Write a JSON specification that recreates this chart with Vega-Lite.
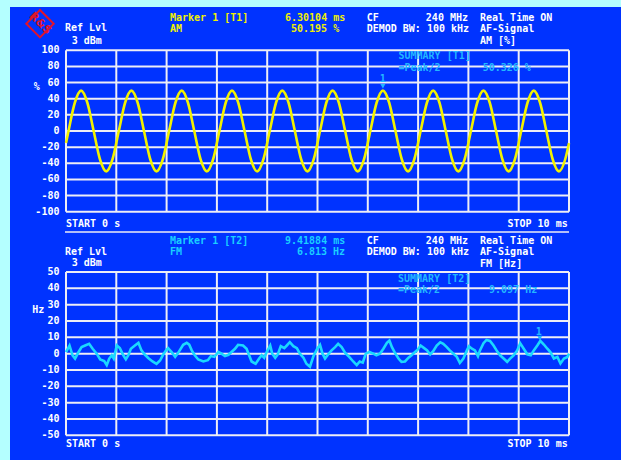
{
"$schema": "https://vega.github.io/schema/vega-lite/v6.json",
"background": "#b4ffff",
"padding": {"left": 10, "top": 5, "right": 0, "bottom": 0},
"config": {
  "view": {"fill": "#0033ff", "stroke": null},
  "text": {"font": "DejaVu Sans Mono", "fontSize": 10, "fontWeight": "bold", "color": "#ffffff", "align": "left", "baseline": "middle"}
},
"datasets": {
  "am": [
    {"t": 0, "v": -15}, {"t": 0.05, "v": 0}, {"t": 0.175, "v": 35}, {"t": 0.3, "v": 50}, {"t": 0.425, "v": 35}, {"t": 0.55, "v": 0}, {"t": 0.675, "v": -35}, {"t": 0.8, "v": -50}, {"t": 0.925, "v": -35},
    {"t": 1.05, "v": 0}, {"t": 1.175, "v": 35}, {"t": 1.3, "v": 50}, {"t": 1.425, "v": 35}, {"t": 1.55, "v": 0}, {"t": 1.675, "v": -35}, {"t": 1.8, "v": -50}, {"t": 1.925, "v": -35},
    {"t": 2.05, "v": 0}, {"t": 2.175, "v": 35}, {"t": 2.3, "v": 50}, {"t": 2.425, "v": 35}, {"t": 2.55, "v": 0}, {"t": 2.675, "v": -35}, {"t": 2.8, "v": -50}, {"t": 2.925, "v": -35},
    {"t": 3.05, "v": 0}, {"t": 3.175, "v": 35}, {"t": 3.3, "v": 50}, {"t": 3.425, "v": 35}, {"t": 3.55, "v": 0}, {"t": 3.675, "v": -35}, {"t": 3.8, "v": -50}, {"t": 3.925, "v": -35},
    {"t": 4.05, "v": 0}, {"t": 4.175, "v": 35}, {"t": 4.3, "v": 50}, {"t": 4.425, "v": 35}, {"t": 4.55, "v": 0}, {"t": 4.675, "v": -35}, {"t": 4.8, "v": -50}, {"t": 4.925, "v": -35},
    {"t": 5.05, "v": 0}, {"t": 5.175, "v": 35}, {"t": 5.3, "v": 50}, {"t": 5.425, "v": 35}, {"t": 5.55, "v": 0}, {"t": 5.675, "v": -35}, {"t": 5.8, "v": -50}, {"t": 5.925, "v": -35},
    {"t": 6.05, "v": 0}, {"t": 6.175, "v": 35}, {"t": 6.3, "v": 50}, {"t": 6.425, "v": 35}, {"t": 6.55, "v": 0}, {"t": 6.675, "v": -35}, {"t": 6.8, "v": -50}, {"t": 6.925, "v": -35},
    {"t": 7.05, "v": 0}, {"t": 7.175, "v": 35}, {"t": 7.3, "v": 50}, {"t": 7.425, "v": 35}, {"t": 7.55, "v": 0}, {"t": 7.675, "v": -35}, {"t": 7.8, "v": -50}, {"t": 7.925, "v": -35},
    {"t": 8.05, "v": 0}, {"t": 8.175, "v": 35}, {"t": 8.3, "v": 50}, {"t": 8.425, "v": 35}, {"t": 8.55, "v": 0}, {"t": 8.675, "v": -35}, {"t": 8.8, "v": -50}, {"t": 8.925, "v": -35},
    {"t": 9.05, "v": 0}, {"t": 9.175, "v": 35}, {"t": 9.3, "v": 50}, {"t": 9.425, "v": 35}, {"t": 9.55, "v": 0}, {"t": 9.675, "v": -35}, {"t": 9.8, "v": -50}, {"t": 9.925, "v": -35},
    {"t": 10, "v": -15}
  ],
  "fm": [
    {"t": 0.00, "v": 1}, {"t": 0.07, "v": 5}, {"t": 0.13, "v": -1}, {"t": 0.18, "v": -3}, {"t": 0.25, "v": 1}, {"t": 0.31, "v": 4}, {"t": 0.38, "v": 5}, {"t": 0.46, "v": 6}, {"t": 0.53, "v": 3}, {"t": 0.61, "v": 0}, {"t": 0.68, "v": -3.5}, {"t": 0.76, "v": -4.5}, {"t": 0.81, "v": -7}, {"t": 0.86, "v": -3}, {"t": 0.91, "v": -1}, {"t": 0.95, "v": -3},
    {"t": 1.01, "v": 5}, {"t": 1.07, "v": 3.4}, {"t": 1.14, "v": -1}, {"t": 1.19, "v": -3.5}, {"t": 1.24, "v": -1}, {"t": 1.29, "v": 3}, {"t": 1.37, "v": 5}, {"t": 1.44, "v": 6.6}, {"t": 1.50, "v": 2}, {"t": 1.57, "v": -0.7}, {"t": 1.64, "v": -2.8}, {"t": 1.72, "v": -4.8}, {"t": 1.80, "v": -6.2}, {"t": 1.87, "v": -4.2}, {"t": 1.93, "v": -0.7}, {"t": 1.99, "v": 2},
    {"t": 2.03, "v": 3.4}, {"t": 2.10, "v": 1}, {"t": 2.17, "v": -2}, {"t": 2.23, "v": 0.5}, {"t": 2.33, "v": 5.4}, {"t": 2.40, "v": 6.6}, {"t": 2.45, "v": 5.5}, {"t": 2.50, "v": 2}, {"t": 2.56, "v": -1}, {"t": 2.63, "v": -3.6}, {"t": 2.73, "v": -4.8}, {"t": 2.82, "v": -4}, {"t": 2.88, "v": -1.5}, {"t": 2.95, "v": -2},
    {"t": 3.03, "v": 1}, {"t": 3.09, "v": 0}, {"t": 3.16, "v": -1.5}, {"t": 3.23, "v": -0.7}, {"t": 3.29, "v": 1}, {"t": 3.36, "v": 3}, {"t": 3.42, "v": 5.4}, {"t": 3.52, "v": 5}, {"t": 3.59, "v": 3}, {"t": 3.64, "v": -1}, {"t": 3.69, "v": -4.8}, {"t": 3.77, "v": -6.2}, {"t": 3.84, "v": -3}, {"t": 3.89, "v": -1}, {"t": 3.94, "v": -2.5}, {"t": 3.99, "v": 1},
    {"t": 4.06, "v": 5}, {"t": 4.10, "v": 0}, {"t": 4.16, "v": -2.5}, {"t": 4.21, "v": -0.5}, {"t": 4.27, "v": 4.6}, {"t": 4.34, "v": 3.4}, {"t": 4.39, "v": 5}, {"t": 4.45, "v": 7}, {"t": 4.52, "v": 4.6}, {"t": 4.59, "v": 3.4}, {"t": 4.65, "v": 0}, {"t": 4.72, "v": -2.5}, {"t": 4.78, "v": -6.2}, {"t": 4.85, "v": -8}, {"t": 4.92, "v": -1.5},
    {"t": 5.00, "v": 3.4}, {"t": 5.05, "v": 5.4}, {"t": 5.10, "v": 0}, {"t": 5.15, "v": -3}, {"t": 5.21, "v": -0.5}, {"t": 5.28, "v": 2}, {"t": 5.35, "v": 4}, {"t": 5.41, "v": 6}, {"t": 5.48, "v": 4}, {"t": 5.55, "v": 0.5}, {"t": 5.63, "v": -2}, {"t": 5.71, "v": -4.8}, {"t": 5.78, "v": -7}, {"t": 5.84, "v": -4.8}, {"t": 5.90, "v": -5.5}, {"t": 5.96, "v": 0},
    {"t": 6.03, "v": 1}, {"t": 6.11, "v": 0}, {"t": 6.17, "v": -1}, {"t": 6.24, "v": 0}, {"t": 6.31, "v": 3}, {"t": 6.38, "v": 6.6}, {"t": 6.43, "v": 8}, {"t": 6.48, "v": 4}, {"t": 6.54, "v": 0.5}, {"t": 6.61, "v": -3}, {"t": 6.67, "v": -5}, {"t": 6.74, "v": -4.8}, {"t": 6.81, "v": -2.5}, {"t": 6.87, "v": -1}, {"t": 6.94, "v": 1}, {"t": 6.98, "v": 2},
    {"t": 7.05, "v": 5}, {"t": 7.12, "v": 3.4}, {"t": 7.18, "v": 2}, {"t": 7.24, "v": -0.5}, {"t": 7.30, "v": 1.5}, {"t": 7.37, "v": 5}, {"t": 7.44, "v": 7}, {"t": 7.50, "v": 6}, {"t": 7.57, "v": 4}, {"t": 7.63, "v": 2}, {"t": 7.70, "v": 0}, {"t": 7.77, "v": -2}, {"t": 7.83, "v": -5.7}, {"t": 7.90, "v": -3}, {"t": 7.97, "v": 2},
    {"t": 8.01, "v": 4.5}, {"t": 8.07, "v": 3}, {"t": 8.13, "v": 2}, {"t": 8.19, "v": -1.6}, {"t": 8.23, "v": 2}, {"t": 8.30, "v": 6.4}, {"t": 8.36, "v": 8.4}, {"t": 8.43, "v": 7.8}, {"t": 8.50, "v": 5}, {"t": 8.56, "v": 2}, {"t": 8.63, "v": -1}, {"t": 8.70, "v": -3}, {"t": 8.77, "v": -5}, {"t": 8.83, "v": -3}, {"t": 8.90, "v": -1}, {"t": 8.97, "v": 2},
    {"t": 9.03, "v": 6.4}, {"t": 9.10, "v": 3}, {"t": 9.17, "v": -0.4}, {"t": 9.24, "v": -1}, {"t": 9.30, "v": 2}, {"t": 9.37, "v": 5}, {"t": 9.43, "v": 7.8}, {"t": 9.50, "v": 5.6}, {"t": 9.57, "v": 3}, {"t": 9.63, "v": 1}, {"t": 9.70, "v": -3}, {"t": 9.77, "v": -2}, {"t": 9.83, "v": -6}, {"t": 9.90, "v": -3}, {"t": 9.97, "v": -2}, {"t": 10.0, "v": 0}
  ],
  "xgrid": [{"t": 0}, {"t": 1}, {"t": 2}, {"t": 3}, {"t": 4}, {"t": 5}, {"t": 6}, {"t": 7}, {"t": 8}, {"t": 9}, {"t": 10}],
  "ygrid1": [{"v": 100}, {"v": 80}, {"v": 60}, {"v": 40}, {"v": 20}, {"v": 0}, {"v": -20}, {"v": -40}, {"v": -60}, {"v": -80}, {"v": -100}],
  "ygrid2": [{"v": 50}, {"v": 40}, {"v": 30}, {"v": 20}, {"v": 10}, {"v": 0}, {"v": -10}, {"v": -20}, {"v": -30}, {"v": -40}, {"v": -50}],
  "one": [{}]
},
"vconcat": [
  {
    "width": 611, "height": 227,
    "layer": [
      {"data": {"name": "xgrid"}, "mark": {"type": "rule", "color": "#eeeef6", "strokeWidth": 2},
       "encoding": {
         "x": {"field": "t", "type": "quantitative", "scale": {"domain": [-1.1133, 11.0338], "nice": false, "zero": false}, "axis": null},
         "y": {"datum": -100, "scale": {"domain": [-127.63, 153.66], "nice": false, "zero": false}, "axis": null},
         "y2": {"datum": 100}}},
      {"data": {"name": "ygrid1"}, "mark": {"type": "rule", "color": "#eeeef6", "strokeWidth": 2},
       "encoding": {"y": {"field": "v", "type": "quantitative"}, "x": {"datum": 0}, "x2": {"datum": 10}}},
      {"data": {"name": "ygrid1"}, "mark": {"type": "text", "align": "right"},
       "encoding": {"y": {"field": "v", "type": "quantitative"}, "x": {"datum": -0.13}, "text": {"field": "v", "type": "nominal"}}},
      {"data": {"name": "am"}, "mark": {"type": "line", "color": "#f2f200", "strokeWidth": 2.6, "interpolate": "monotone"},
       "encoding": {"x": {"field": "t", "type": "quantitative"}, "y": {"field": "v", "type": "quantitative"}}},
      {"data": {"name": "one"}, "mark": {"type": "point", "shape": "diamond", "size": 750, "filled": false, "color": "#e0142c", "strokeWidth": 2, "opacity": 1},
       "encoding": {"x": {"datum": -0.517}, "y": {"datum": 133.0}}},
      {"data": {"name": "one"}, "mark": {"type": "text", "text": "R&S", "color": "#e0142c", "align": "center", "angle": 45, "fontSize": 11, "font": "DejaVu Sans"},
       "encoding": {"x": {"datum": -0.517}, "y": {"datum": 133.0}}},
      {"data": {"name": "one"}, "mark": {"type": "text", "text": "Ref Lvl"}, "encoding": {"x": {"datum": -0.02}, "y": {"datum": 127.6}}},
      {"data": {"name": "one"}, "mark": {"type": "text", "text": "3 dBm"}, "encoding": {"x": {"datum": 0.113}, "y": {"datum": 112.1}}},
      {"data": {"name": "one"}, "mark": {"type": "text", "text": "Marker 1 [T1]", "color": "#f0f000"}, "encoding": {"x": {"datum": 2.068}, "y": {"datum": 140.0}}},
      {"data": {"name": "one"}, "mark": {"type": "text", "text": "AM", "color": "#f0f000"}, "encoding": {"x": {"datum": 2.068}, "y": {"datum": 126.4}}},
      {"data": {"name": "one"}, "mark": {"type": "text", "text": "6.30104 ms", "color": "#f0f000"}, "encoding": {"x": {"datum": 4.354}, "y": {"datum": 140.0}}},
      {"data": {"name": "one"}, "mark": {"type": "text", "text": "50.195 %", "color": "#f0f000"}, "encoding": {"x": {"datum": 4.473}, "y": {"datum": 126.4}}},
      {"data": {"name": "one"}, "mark": {"type": "text", "text": "CF"}, "encoding": {"x": {"datum": 5.978}, "y": {"datum": 140.0}}},
      {"data": {"name": "one"}, "mark": {"type": "text", "text": "240 MHz", "align": "right"}, "encoding": {"x": {"datum": 7.992}, "y": {"datum": 140.0}}},
      {"data": {"name": "one"}, "mark": {"type": "text", "text": "DEMOD BW: 100 kHz"}, "encoding": {"x": {"datum": 5.978}, "y": {"datum": 126.4}}},
      {"data": {"name": "one"}, "mark": {"type": "text", "text": "Real Time ON"}, "encoding": {"x": {"datum": 8.231}, "y": {"datum": 140.0}}},
      {"data": {"name": "one"}, "mark": {"type": "text", "text": "AF-Signal"}, "encoding": {"x": {"datum": 8.231}, "y": {"datum": 126.4}}},
      {"data": {"name": "one"}, "mark": {"type": "text", "text": "AM [%]"}, "encoding": {"x": {"datum": 8.231}, "y": {"datum": 112.1}}},
      {"data": {"name": "one"}, "mark": {"type": "text", "text": "SUMMARY [T1]", "color": "#22b8ff"}, "encoding": {"x": {"datum": 6.61}, "y": {"datum": 92.9}}},
      {"data": {"name": "one"}, "mark": {"type": "text", "text": "=Peak/2", "color": "#22b8ff"}, "encoding": {"x": {"datum": 6.61}, "y": {"datum": 78.1}}},
      {"data": {"name": "one"}, "mark": {"type": "text", "text": "50.326 %", "color": "#22b8ff"}, "encoding": {"x": {"datum": 8.284}, "y": {"datum": 78.1}}},
      {"data": {"name": "one"}, "mark": {"type": "text", "text": "1", "color": "#22b8ff", "align": "center"}, "encoding": {"x": {"datum": 6.30}, "y": {"datum": 64.4}}},
      {"data": {"name": "one"}, "mark": {"type": "point", "shape": "triangle-down", "size": 25, "filled": true, "color": "#22b8ff", "opacity": 1}, "encoding": {"x": {"datum": 6.30}, "y": {"datum": 55.5}}},
      {"data": {"name": "one"}, "mark": {"type": "text", "text": "%", "align": "center"}, "encoding": {"x": {"datum": -0.58}, "y": {"datum": 54.5}}},
      {"data": {"name": "one"}, "mark": {"type": "text", "text": "START 0 s"}, "encoding": {"x": {"datum": 0}, "y": {"datum": -115.1}}},
      {"data": {"name": "one"}, "mark": {"type": "text", "text": "STOP 10 ms", "align": "right"}, "encoding": {"x": {"datum": 9.974}, "y": {"datum": -115.1}}},
      {"data": {"name": "one"}, "mark": {"type": "rule", "color": "#eeeef6", "strokeWidth": 1.5}, "encoding": {"x": {"datum": -0.02}, "x2": {"datum": 10}, "y": {"datum": -125}}}
    ]
  },
  {
    "width": 611, "height": 228,
    "layer": [
      {"data": {"name": "xgrid"}, "mark": {"type": "rule", "color": "#eeeef6", "strokeWidth": 2},
       "encoding": {
         "x": {"field": "t", "type": "quantitative", "scale": {"domain": [-1.1133, 11.0338], "nice": false, "zero": false}, "axis": null},
         "y": {"datum": -50, "scale": {"domain": [-66.35, 73.27], "nice": false, "zero": false}, "axis": null},
         "y2": {"datum": 50}}},
      {"data": {"name": "ygrid2"}, "mark": {"type": "rule", "color": "#eeeef6", "strokeWidth": 2},
       "encoding": {"y": {"field": "v", "type": "quantitative"}, "x": {"datum": 0}, "x2": {"datum": 10}}},
      {"data": {"name": "ygrid2"}, "mark": {"type": "text", "align": "right"},
       "encoding": {"y": {"field": "v", "type": "quantitative"}, "x": {"datum": -0.13}, "text": {"field": "v", "type": "nominal"}}},
      {"data": {"name": "fm"}, "mark": {"type": "line", "color": "#1ad8ff", "strokeWidth": 2.6},
       "encoding": {"x": {"field": "t", "type": "quantitative"}, "y": {"field": "v", "type": "quantitative"}}},
      {"data": {"name": "one"}, "mark": {"type": "text", "text": "Ref Lvl"}, "encoding": {"x": {"datum": -0.02}, "y": {"datum": 62.2}}},
      {"data": {"name": "one"}, "mark": {"type": "text", "text": "3 dBm"}, "encoding": {"x": {"datum": 0.113}, "y": {"datum": 55.3}}},
      {"data": {"name": "one"}, "mark": {"type": "text", "text": "Marker 1 [T2]", "color": "#1ad0ff"}, "encoding": {"x": {"datum": 2.068}, "y": {"datum": 69.0}}},
      {"data": {"name": "one"}, "mark": {"type": "text", "text": "FM", "color": "#1ad0ff"}, "encoding": {"x": {"datum": 2.068}, "y": {"datum": 62.2}}},
      {"data": {"name": "one"}, "mark": {"type": "text", "text": "9.41884 ms", "color": "#1ad0ff"}, "encoding": {"x": {"datum": 4.354}, "y": {"datum": 69.0}}},
      {"data": {"name": "one"}, "mark": {"type": "text", "text": "6.813 Hz", "color": "#1ad0ff"}, "encoding": {"x": {"datum": 4.592}, "y": {"datum": 62.2}}},
      {"data": {"name": "one"}, "mark": {"type": "text", "text": "CF"}, "encoding": {"x": {"datum": 5.978}, "y": {"datum": 69.0}}},
      {"data": {"name": "one"}, "mark": {"type": "text", "text": "240 MHz", "align": "right"}, "encoding": {"x": {"datum": 7.992}, "y": {"datum": 69.0}}},
      {"data": {"name": "one"}, "mark": {"type": "text", "text": "DEMOD BW: 100 kHz"}, "encoding": {"x": {"datum": 5.978}, "y": {"datum": 62.2}}},
      {"data": {"name": "one"}, "mark": {"type": "text", "text": "Real Time ON"}, "encoding": {"x": {"datum": 8.231}, "y": {"datum": 69.0}}},
      {"data": {"name": "one"}, "mark": {"type": "text", "text": "AF-Signal"}, "encoding": {"x": {"datum": 8.231}, "y": {"datum": 62.2}}},
      {"data": {"name": "one"}, "mark": {"type": "text", "text": "FM [Hz]"}, "encoding": {"x": {"datum": 8.231}, "y": {"datum": 55.2}}},
      {"data": {"name": "one"}, "mark": {"type": "text", "text": "SUMMARY [T2]", "color": "#22b8ff"}, "encoding": {"x": {"datum": 6.60}, "y": {"datum": 45.5}}},
      {"data": {"name": "one"}, "mark": {"type": "text", "text": "=Peak/2", "color": "#22b8ff"}, "encoding": {"x": {"datum": 6.60}, "y": {"datum": 38.8}}},
      {"data": {"name": "one"}, "mark": {"type": "text", "text": "9.097 Hz", "color": "#22b8ff"}, "encoding": {"x": {"datum": 8.41}, "y": {"datum": 38.8}}},
      {"data": {"name": "one"}, "mark": {"type": "text", "text": "1", "color": "#22b8ff", "align": "center"}, "encoding": {"x": {"datum": 9.40}, "y": {"datum": 13.3}}},
      {"data": {"name": "one"}, "mark": {"type": "point", "shape": "triangle-down", "size": 25, "filled": true, "color": "#22b8ff", "opacity": 1}, "encoding": {"x": {"datum": 9.42}, "y": {"datum": 9.6}}},
      {"data": {"name": "one"}, "mark": {"type": "text", "text": "Hz", "align": "center"}, "encoding": {"x": {"datum": -0.55}, "y": {"datum": 26.9}}},
      {"data": {"name": "one"}, "mark": {"type": "text", "text": "START 0 s"}, "encoding": {"x": {"datum": 0}, "y": {"datum": -55.3}}},
      {"data": {"name": "one"}, "mark": {"type": "text", "text": "STOP 10 ms", "align": "right"}, "encoding": {"x": {"datum": 9.974}, "y": {"datum": -55.3}}}
    ]
  }
],
"spacing": 0
}
